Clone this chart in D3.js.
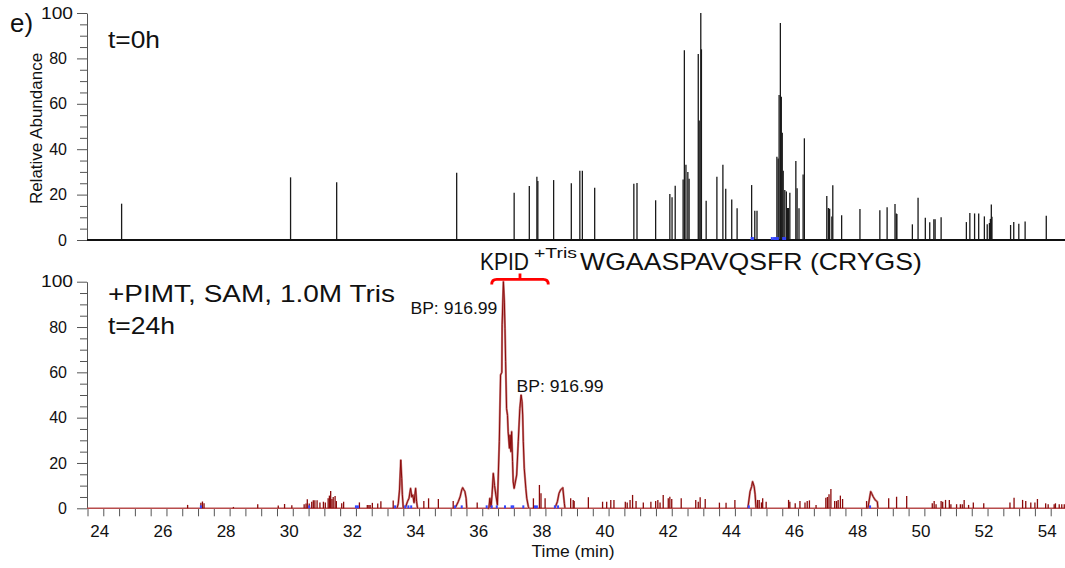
<!DOCTYPE html>
<html><head><meta charset="utf-8">
<script src="https://cdn.jsdelivr.net/npm/d3@7"></script>
<style>body{margin:0;background:#fff}svg{display:block}</style>
</head><body>
<svg id="c" width="1065" height="568"></svg>
<script>
// ---------- DATA ----------
const yTickValues = [0, 20, 40, 60, 80, 100];
const yMinorValues = [5,10,15,25,30,35,45,50,55,65,70,75,85,90,95];
const xLabelValues = [24,26,28,30,32,34,36,38,40,42,44,46,48,50,52,54];
const xTickValues = d3.range(47, 109).map(d => d / 2); // 23.5 .. 54 every half minute

// top panel (t=0h): [time (min), relative abundance]
const topSticks = [[24.58,16],[29.93,27.6],[31.39,25.4],[35.19,29.6],[37.01,20.8],[37.49,23.8],[37.73,27.9],[37.76,26],
[38.26,26.4],[38.82,25],[39.09,30.5],[39.17,30.5],[39.56,23],[40.80,24.8],[40.90,25.1],[41.49,17.5],[41.94,20.3],[42.01,18.8],
[42.11,23.9],[42.36,26.7],[42.40,83.6],[42.45,33.2],[42.51,30],[42.55,27],[42.84,81.9],[42.87,52.6],[42.92,100],[42.94,84],
[43.09,17.3],[43.43,27.9],[43.62,33.2],[43.71,22.6],[43.90,17.8],[44.07,14],[44.53,24.2],[44.63,12.9],[44.70,12.9],
[45.33,36.7],[45.37,35.9],[45.40,63.9],[45.44,95.6],[45.47,63.1],[45.50,47.3],[45.53,30.5],[45.58,22],[45.63,21.4],
[45.67,14.1],[45.70,14.1],[45.74,20.8],[45.93,34.8],[45.97,22.8],[46.03,14],[46.16,28.8],[46.20,44.8],[46.91,19.4],
[46.96,14.1],[47.00,13.8],[47.07,10.3],[47.10,24.1],[47.38,10.9],[47.96,13.7],[48.59,13.1],[48.82,14.4],[49.07,15.9],
[49.11,11.7],[49.13,11.4],[49.62,6.9],[49.80,18.6],[50.03,9.8],[50.17,7.8],[50.30,9.1],[50.34,9.1],[50.53,10],
[51.33,7.9],[51.44,11.9],[51.59,11.7],[51.72,11.7],[51.90,10.4],[51.99,6.9],[52.06,7.5],[52.09,9.3],[52.12,15.6],
[52.14,10.2],[52.73,6.6],[52.83,7.9],[52.99,7.2],[53.19,8.1],[53.86,10.7]];
const topBlue = [[44.53,1.3],[44.57,1.3],[45.17,1.3],[45.24,1.3],[45.30,1.3],[45.36,1.3],[45.53,1.3],[45.59,1.3]];

// bottom panel (+PIMT, SAM, 1.0M Tris, t=24h): continuous peak traces
const botTrace = [
 [[33.30,0],[33.34,2],[33.38,8],[33.42,21.3],[33.45,13.2],[33.47,6],[33.50,0]],
 [[33.56,0],[33.63,2.9],[33.68,4.4],[33.73,8.8],[33.77,5],[33.80,5.9],[33.84,2.5],[33.89,8.8],[33.92,3],[33.95,0]],
 [[35.14,0],[35.19,1.5],[35.24,2.9],[35.30,5.1],[35.35,8.1],[35.38,9.1],[35.42,8.1],[35.45,7.4],[35.49,4.4],[35.51,0]],
 [[36.17,0],[36.21,0],[36.24,4.4],[36.28,0.5],[36.31,6],[36.35,15.4],[36.39,10],[36.43,5.9],[36.48,1.5],[36.54,29.4],
  [36.58,58.8],[36.62,60],[36.63,81],[36.67,100],[36.70,91],[36.72,79.4],[36.74,64.7],[36.77,44],[36.80,41],[36.82,33.8],
  [36.86,26.5],[36.88,32.3],[36.91,25],[36.93,33.8],[36.96,20.6],[36.98,11.7],[37.01,8.8],[37.09,14.7],[37.14,29.4],
  [37.19,44.1],[37.23,50],[37.26,47],[37.28,41.2],[37.30,29.4],[37.33,17.6],[37.38,8.8],[37.41,4.4],[37.46,0.7],[37.48,0]],
 [[38.30,0],[38.38,3],[38.43,6.6],[38.48,8.1],[38.55,9.1],[38.60,2.2],[38.62,0]],
 [[44.41,0],[44.48,7.4],[44.53,9.6],[44.56,11.8],[44.61,9.6],[44.64,6.2],[44.67,0]],
 [[48.21,0],[48.30,7.4],[48.33,6.6],[48.38,5.1],[48.44,3.7],[48.51,2.9],[48.53,0]]
];
// bottom panel: narrow noise spikes
const botSticks = [[26.67,1.5],[27.09,2.5],[27.14,3],[27.19,2.2],[28.12,0.6],[28.89,1.8],[29.54,1.2],[29.74,1.9],[29.97,1.3],
[30.36,1.8],[30.42,2.1],[30.46,4.0],[30.52,2.1],[30.60,2.9],[30.65,3.5],[30.70,3.5],[30.77,3.5],[30.86,2.6],[30.97,2.9],
[31.03,2.6],[31.12,4.4],[31.16,5.6],[31.20,7.6],[31.24,4.1],[31.28,5.0],[31.34,5.4],[31.38,3.2],[31.55,2.2],[31.61,2.9],
[32.11,2.6],[32.36,1.5],[32.41,1.5],[32.45,1.5],[32.52,2.4],[32.69,2.1],[32.79,3.1],[33.18,3.4],[34.15,3.2],[34.30,4.4],
[34.61,4.1],[35.08,3.2],[35.84,2.6],[37.62,4.4],[37.81,10.3],[37.86,6.6],[37.99,4.4],[38.80,4.4],[38.88,3.7],[38.91,3.2],
[39.36,4.9],[39.81,2.9],[39.94,2.9],[40.07,3.7],[40.17,3.7],[40.53,2.9],[40.59,2.6],[40.68,3.7],[40.76,5.9],[40.87,3.2],
[41.10,2.6],[41.34,2.9],[41.49,3.2],[41.56,3.7],[41.63,2.6],[41.73,5.9],[41.89,4.4],[41.94,5.1],[42.00,4.1],[42.30,4.4],
[42.76,3.7],[42.84,2.9],[42.90,4.9],[43.06,4.1],[43.51,2.5],[43.72,2.5],[44.00,3.7],[44.72,3.7],[44.77,3.7],[44.84,2.6],
[44.88,4.4],[44.99,2.9],[45.70,3.7],[45.74,2.9],[45.91,2.2],[46.06,3.2],[46.22,2.6],[46.29,3.2],[46.36,3.5],[46.57,1.5],
[46.88,4.7],[46.93,5.0],[46.98,6.2],[47.04,8.5],[47.16,3.2],[47.22,3.2],[47.27,3.7],[47.34,5.6],[47.41,4.1],[48.17,3.2],
[48.87,4.4],[49.12,5.1],[49.44,5.4],[50.25,2.2],[50.31,3.2],[50.37,1.8],[50.53,3.2],[50.58,2.9],[50.67,3.7],[50.79,3.7],
[50.84,1.8],[51.02,1.8],[51.14,1.8],[51.20,1.8],[51.26,3.7],[51.40,1.5],[51.55,2.6],[51.88,2.2],[52.71,2.6],[52.84,4.7],
[53.11,3.7],[53.21,3.2],[53.37,2.6],[53.50,2.6],[53.58,4.1],[53.84,2.2],[53.92,1.8],[54.11,1.8],[54.15,2.2],[54.27,1.8],
[54.35,1.8],[54.43,1.8]];
const botBlue = [[27.09,1.3],[30.52,1.3],[32.00,1.3],[32.06,1.3],[33.24,1.3],[33.56,1.3],[33.66,1.3],[33.75,1.3],[35.14,1.3],
[35.35,1.3],[36.14,1.3],[36.30,1.3],[36.46,1.3],[36.72,1.3],[36.93,1.3],[36.98,1.3],[37.30,1.3],[37.67,1.3],[37.73,1.3],
[38.30,1.3],[38.40,1.3],[44.44,1.3],[48.28,1.3]];

// annotations
const bpLabels = [{t:36.67, v:100, text:"BP: 916.99", side:"left"}, {t:37.23, v:50, text:"BP: 916.99", side:"right"}];
const bracketRange = [36.30, 38.09];

// ---------- DRAW ----------
const FONT = '"Liberation Sans", Arial, Helvetica, sans-serif';
const svg = d3.select('#c').style('font-family', FONT);
const x = d3.scaleLinear().domain([23.484, 54.453]).range([87, 1065]);
const yTop = d3.scaleLinear().domain([0, 100]).range([240, 13]);
const yBot = d3.scaleLinear().domain([0, 100]).range([508.3, 281.7]);

function yAxis(scale) {
  const gMin = svg.append('g').attr('transform', 'translate(87,0)')
    .call(d3.axisLeft(scale).tickValues(yMinorValues).tickSize(7).tickSizeOuter(0).tickFormat(''));
  gMin.select('.domain').remove();
  gMin.selectAll('line').attr('stroke', '#555');
  const g = svg.append('g').attr('transform', 'translate(87,0)')
    .call(d3.axisLeft(scale).tickValues(yTickValues).tickSize(10).tickSizeOuter(0).tickPadding(4));
  g.select('.domain').attr('stroke', '#555');
  g.selectAll('line').attr('stroke', '#555');
  g.selectAll('text').attr('font-size', 16).attr('font-family', FONT).attr('fill', '#111')
    .attr('x', d => d === 100 ? -46 : -20)
    .attr('text-anchor', d => d === 100 ? 'start' : 'end')
    .attr('textLength', d => d === 100 ? 32 : null)
    .attr('lengthAdjust', 'spacingAndGlyphs');
}
yAxis(yTop);
yAxis(yBot);

// top panel
svg.append('g').selectAll('line').data(topSticks).join('line')
  .attr('x1', d => x(d[0])).attr('x2', d => x(d[0]))
  .attr('y1', yTop(0)).attr('y2', d => yTop(d[1]))
  .attr('stroke', '#1a1a1a').attr('stroke-width', 1.3);
svg.append('line').attr('x1', x.range()[0]).attr('x2', x.range()[1])
  .attr('y1', yTop(0)).attr('y2', yTop(0)).attr('stroke', '#111').attr('stroke-width', 1.8);
svg.append('g').selectAll('line').data(topBlue).join('line')
  .attr('x1', d => x(d[0])).attr('x2', d => x(d[0]))
  .attr('y1', yTop(0)).attr('y2', d => yTop(d[1]))
  .attr('stroke', '#3344ff').attr('stroke-width', 2);

// bottom panel x axis ticks
const gx = svg.append('g').attr('transform', `translate(0,${yBot(0)})`)
  .call(d3.axisBottom(x).tickValues(xTickValues).tickSize(8).tickSizeOuter(0).tickFormat(''));
gx.select('.domain').remove();
gx.selectAll('line').attr('stroke', '#555');
const gxl = svg.append('g').attr('transform', `translate(0,${yBot(0)})`)
  .call(d3.axisBottom(x).tickValues(xLabelValues).tickSize(0).tickPadding(17).tickFormat(d3.format('d')));
gxl.select('.domain').remove();
gxl.selectAll('text').attr('font-size', 17).attr('font-family', FONT).attr('fill', '#111').attr('dx', -4);

// bottom panel trace
svg.append('line').attr('x1', x.range()[0]).attr('x2', x.range()[1])
  .attr('y1', yBot(0)).attr('y2', yBot(0)).attr('stroke', '#b84d4d').attr('stroke-width', 1.6);
svg.append('g').selectAll('line').data(botSticks).join('line')
  .attr('x1', d => x(d[0])).attr('x2', d => x(d[0]))
  .attr('y1', yBot(0)).attr('y2', d => yBot(d[1]))
  .attr('stroke', '#8b0a0a').attr('stroke-width', 1.3);
const line = d3.line().x(d => x(d[0])).y(d => yBot(d[1]));
svg.append('g').selectAll('path').data(botTrace).join('path')
  .attr('d', line).attr('fill', 'none').attr('stroke', '#c98080').attr('stroke-width', 2.2).attr('stroke-linejoin', 'round');
svg.append('g').selectAll('path').data(botTrace).join('path')
  .attr('d', line).attr('fill', 'none').attr('stroke', '#8b0a0a').attr('stroke-width', 1).attr('stroke-linejoin', 'round');
svg.append('g').selectAll('line').data(botBlue).join('line')
  .attr('x1', d => x(d[0])).attr('x2', d => x(d[0]))
  .attr('y1', yBot(0)).attr('y2', d => yBot(d[1]))
  .attr('stroke', '#3344ff').attr('stroke-width', 2);

// texts
function txt(xp, yp, s, size, anchor, len) {
  const t = svg.append('text').attr('x', xp).attr('y', yp).attr('font-size', size)
    .attr('text-anchor', anchor || 'start').attr('fill', '#111').text(s);
  if (len) t.attr('textLength', len).attr('lengthAdjust', 'spacingAndGlyphs');
  return t;
}
txt(10, 32, 'e)', 25, 'start', 23);
txt(108, 48, 't=0h', 24.5, 'start', 52);
txt(108, 301.7, '+PIMT, SAM, 1.0M Tris', 24.5, 'start', 287);
txt(108, 334, 't=24h', 24.5, 'start', 67);
svg.append('text').attr('transform', `translate(42,${(yTop(0)+yTop(100))/2 + 2}) rotate(-90)`)
  .attr('text-anchor', 'middle').attr('font-size', 17).attr('fill', '#111').text('Relative Abundance');
txt(573, 557, 'Time (min)', 17, 'middle', 83);

bpLabels.forEach(b => {
  if (b.side === 'left') txt(x(b.t) - 6, yBot(b.v) + 32.3, b.text, 17, 'end', 87);
  else txt(x(b.t) - 4.5, yBot(b.v) - 3.3, b.text, 17, 'start', 87);
});

// title with superscript
txt(480, 270, 'KPID', 24, 'start', 49);
txt(534, 258, '+Tris', 15, 'start', 43);
txt(580, 270, 'WGAASPAVQSFR (CRYGS)', 24, 'start', 342);

// red bracket
const bx0 = x(bracketRange[0]), bx1 = x(bracketRange[1]), bm = (bx0 + bx1) / 2, by = yBot(101);
svg.append('path')
  .attr('d', `M${bx0},${by+5} Q${bx0},${by} ${bx0+5},${by} L${bx1-5},${by} Q${bx1},${by} ${bx1},${by+5} M${bm},${by} L${bm},${by-6}`)
  .attr('fill', 'none').attr('stroke', '#ff0000').attr('stroke-width', 2.8);
</script>
</body></html>
